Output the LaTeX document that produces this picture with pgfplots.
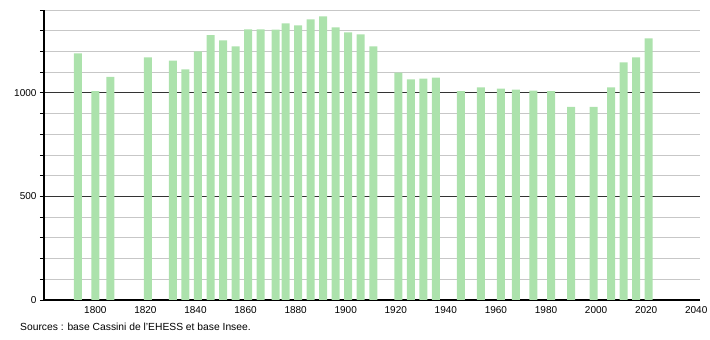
\documentclass[border=0pt]{standalone}
\usepackage{fontspec}
\setmainfont{Liberation Sans}
\usepackage{pgfplots}
\pgfplotsset{compat=1.18}
\usepackage{pgfplotstable}
\definecolor{bargreen}{RGB}{172,226,172}
\pgfplotstableread{
year pop
1793 1190
1800 1008
1806 1077
1821 1171
1831 1156
1836 1113
1841 1200
1846 1279
1851 1253
1856 1224
1861 1306
1866 1306
1872 1305
1876 1335
1881 1326
1886 1355
1891 1369
1896 1316
1901 1292
1906 1282
1911 1224
1921 1098
1926 1065
1931 1069
1936 1074
1946 1008
1954 1027
1962 1021
1968 1016
1975 1011
1982 1008
1990 932
1999 932
2006 1027
2011 1147
2016 1171
2021 1263
}\poptable
\begin{document}
\begin{tikzpicture}
\begin{axis}[
  at={(44pt,40pt)}, anchor=south west,
  scale only axis, width=656pt, height=290pt,
  xmin=1779.5, xmax=2041.5, ymin=0, ymax=1400,
  axis x line*=bottom, axis y line*=left,
  axis line style={line width=1.2pt,-},
  xtick={1800,1820,...,2040},
  xtick style={draw=none},
  ytick={0,500,1000},
  minor ytick={100,200,...,1400},
  tick align=outside,
  major tick length=4pt, minor tick length=4pt,
  ytick style={black, line width=0.8pt},
  minor tick style={black, line width=0.8pt},
  ymajorgrids, yminorgrids,
  major grid style={black!80, line width=0.8pt},
  minor grid style={black!22, line width=0.8pt},
  tick label style={font=\fontsize{10}{12}\selectfont},
  xticklabel style={yshift=1pt},
  /pgf/number format/assume math mode=true,
  /pgf/number format/1000 sep={},
  scaled ticks=false,
  clip=false,
]
\addplot[ybar, bar width=8pt, fill=bargreen, draw=none] table[x=year,y=pop]{\poptable};
\end{axis}
\node[anchor=west, font=\fontsize{10.3}{12}\selectfont, inner sep=0pt] at (20pt,13pt) {Sources : base Cassini de l'EHESS et base Insee.};
\pgfresetboundingbox
\path[use as bounding box] (0,0) rectangle (710pt,340pt);
\end{tikzpicture}
\end{document}
